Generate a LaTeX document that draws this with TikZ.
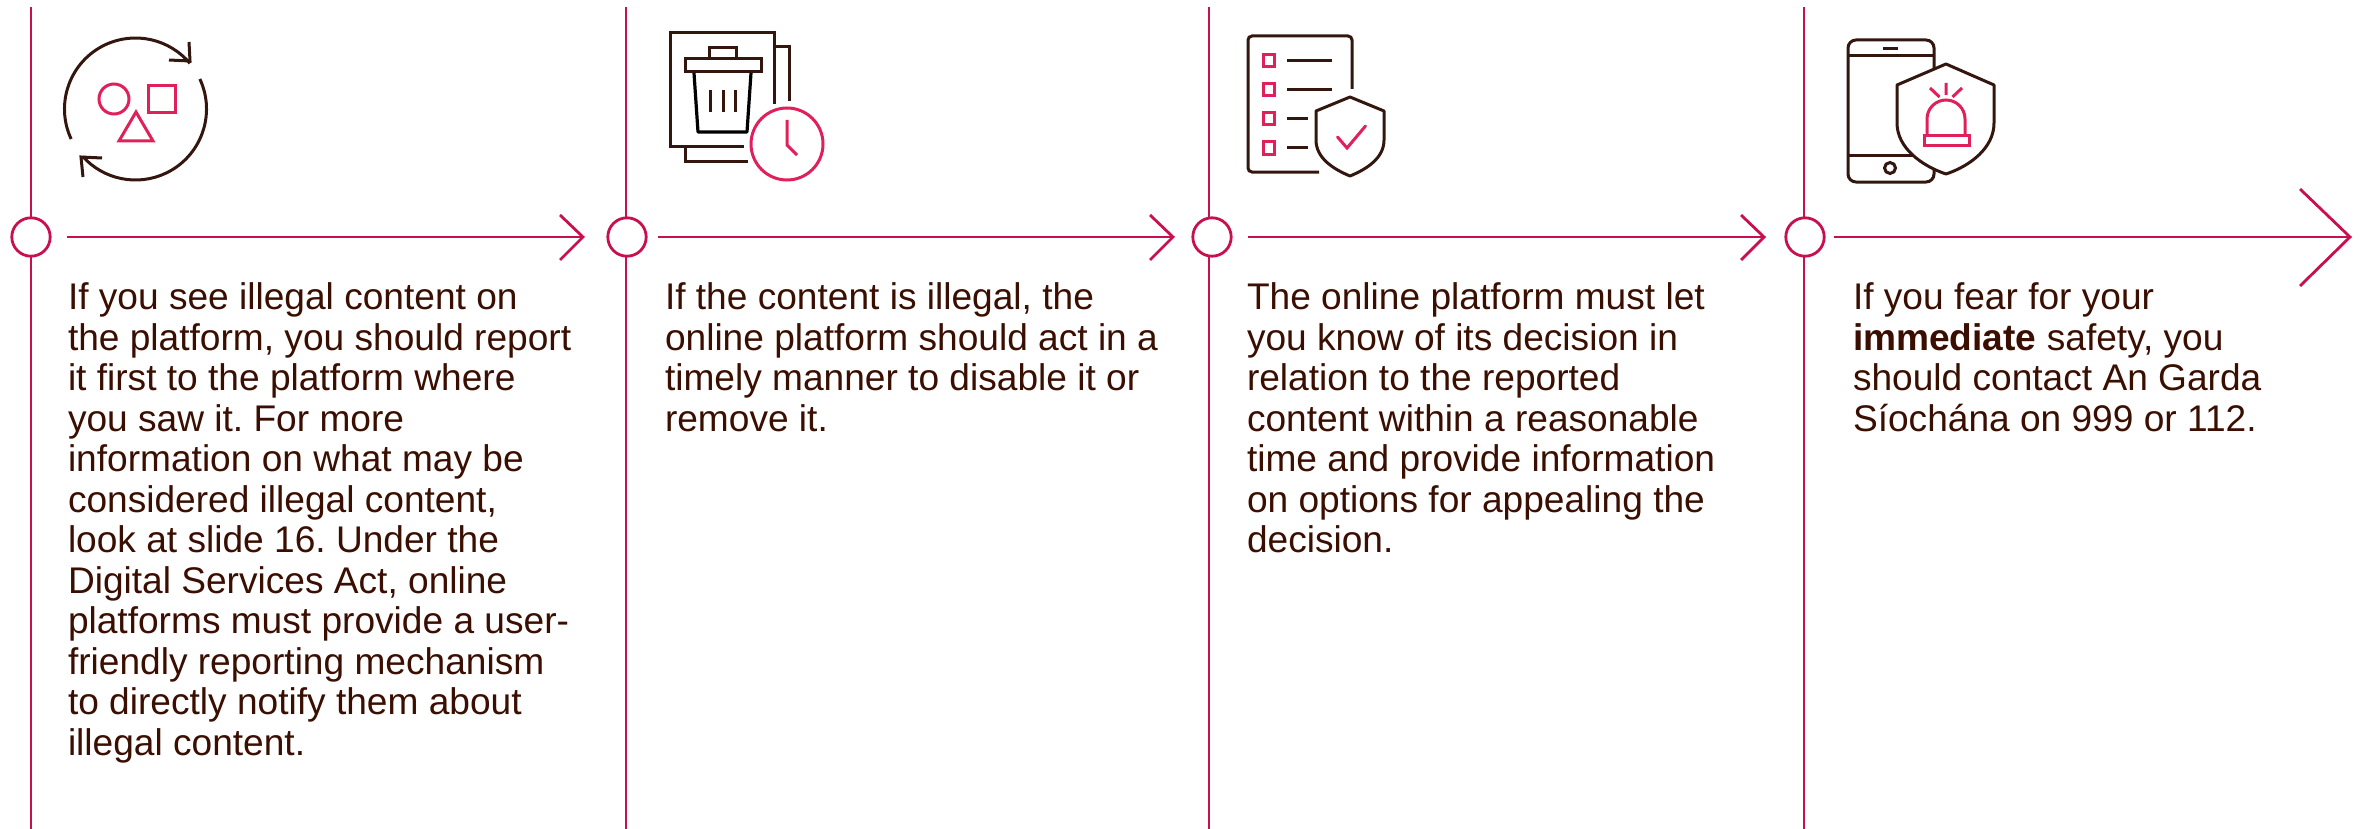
\documentclass[tikz,border=0pt]{standalone}
\usepackage{fontspec}
\setmainfont{Liberation Sans}
\definecolor{crim}{HTML}{C8104E}
\definecolor{pinkred}{HTML}{E0205A}
\definecolor{dbrown}{HTML}{33170F}
\definecolor{txtc}{HTML}{3A0E00}
\tikzset{
  x=0.5pt,y=-0.5pt,
  rail/.style={crim,line width=1.4pt},
  dot/.style={circle,draw=crim,line width=1.4pt,fill=white,minimum size=19.2pt,inner sep=0pt},
  flow/.style={crim,line width=1.4pt},
  ink/.style={dbrown,line width=1.5pt},
  inkj/.style={dbrown,line width=1.5pt,rounded corners=2pt},
  accent/.style={pinkred,line width=1.5pt},
  body/.style={anchor=north west,inner sep=0pt,outer sep=0pt,align=left,text=txtc,font=\fontsize{18.55}{20.25}\selectfont\frenchspacing},
}
\begin{document}
\begin{tikzpicture}
\useasboundingbox (0,0) rectangle (2366,829);
% rails
\coordinate (r1t) at (31,7); \coordinate (r1b) at (31,829);
\coordinate (r2t) at (626,7); \coordinate (r2b) at (626,829);
\coordinate (r3t) at (1209,7); \coordinate (r3b) at (1209,829);
\coordinate (r4t) at (1804,7); \coordinate (r4b) at (1804,829);
\draw[rail] (r1t)--(r1b);
\draw[rail] (r2t)--(r2b);
\draw[rail] (r3t)--(r3b);
\draw[rail] (r4t)--(r4b);
\node[dot] (d1) at (31,237) {};
\node[dot] (d2) at (627,237) {};
\node[dot] (d3) at (1212,237) {};
\node[dot] (d4) at (1805,237) {};
% arrows
\coordinate (a1s) at (67,237); \coordinate (a1e) at (583,237);
\coordinate (a2s) at (658,237); \coordinate (a2e) at (1173,237);
\coordinate (a3s) at (1248,237); \coordinate (a3e) at (1764,237);
\coordinate (a4s) at (1834,237); \coordinate (a4e) at (2350,237);
\draw[flow] (a1s)--(a1e);
\draw[flow] (560,215)--(a1e)--(560,260);
\draw[flow] (a2s)--(a2e);
\draw[flow] (1150,215)--(a2e)--(1150,260);
\draw[flow] (a3s)--(a3e);
\draw[flow] (1741,215)--(a3e)--(1741,260);
\draw[flow] (a4s)--(a4e);
\draw[flow] (2300,189)--(a4e)--(2300,286);
% icon 1
\draw[ink] (135.5,109)++(-205:71) arc[start angle=-205,end angle=-40,radius=71];
\draw[ink] (135.5,109)++(-25:71) arc[start angle=-25,end angle=138,radius=71];
\draw[ink] (189,42)--(190,61)--(169,60);
\draw[ink] (102,158)--(81,157)--(83,177);
\draw[accent] (114,99) circle[radius=15];
\draw[accent] (148,86) rectangle (175,113);
\draw[accent] (136,112)--(153,141)--(119,141)--cycle;
% icon 2
\draw[ink] (774,104)--(774,33)--(670,33)--(670,147)--(744,147);
\draw[ink] (775,47)--(789,47)--(789,101);
\draw[ink] (685,148)--(685,161)--(748,161);
\draw[ink] (685,59) rectangle (761,72);
\draw[ink] (709,59)--(709,48)--(736,48)--(736,59);
\draw[black,line width=1.6pt,line join=round] (694,73)--(698,132)--(747,132)--(751,73);
\draw[ink] (710,90)--(710,112) (723,90)--(723,112) (735,90)--(735,112);
\draw[accent] (787,144) circle[radius=36];
\draw[accent] (787,120)--(787,145)--(797,155);
% icon 3
\draw[inkj] (1352,89)--(1352,36)--(1248,36)--(1248,172)--(1319,172);
\foreach \yy in {54,83,112,141}{\draw[accent] (1263,\yy+1) rectangle (1274,\yy+13);}
\draw[ink] (1287,61)--(1332,61) (1287,90)--(1332,90) (1287,119)--(1308,119) (1287,148)--(1308,148);
\draw[ink,line join=round] (1350,97)--(1384,111)--(1384,140) .. controls (1384,158) and (1367,169) .. (1350,176) .. controls (1333,169) and (1316,158) .. (1316,140)--(1316,111)--cycle;
\draw[accent,line cap=round] (1337.5,137)--(1347,148)--(1365.5,126);
% icon 4
\draw[ink,rounded corners=4pt] (1848,40) rectangle (1934,182);
\draw[ink] (1848,56)--(1934,56) (1848,155)--(1934,155) (1883,49)--(1898,49);
\draw[ink] (1890,168) circle[radius=5.5];
\draw[ink,fill=white,line join=round] (1946,64)--(1994,85)--(1994,123) .. controls (1994,148) and (1970,166) .. (1946,174) .. controls (1922,166) and (1897,148) .. (1897,123)--(1897,85)--cycle;
\draw[accent] (1927,136)--(1927,119) arc[start angle=180,end angle=360,radius=19]--(1965,136);
\draw[accent] (1924,136) rectangle (1969,146);
\draw[accent] (1946,83)--(1946,95) (1930,88)--(1939.5,97) (1962,88)--(1952.5,97);
% text
\node[body] (t1) at (68,283) {If you see illegal content on\\the platform, you should report\\it first to the platform where\\you saw it. For more\\information on what may be\\considered illegal content,\\look at slide 16. Under the\\Digital Services Act, online\\platforms must provide a user-\\friendly reporting mechanism\\to directly notify them about\\illegal content.};
\node[body] (t2) at (665,283) {If the content is illegal, the\\online platform should act in a\\timely manner to disable it or\\remove it.};
\node[body] (t3) at (1247,283) {The online platform must let\\you know of its decision in\\relation to the reported\\content within a reasonable\\time and provide information\\on options for appealing the\\decision.};
\node[body] (t4) at (1853,283) {If you fear for your\\\textbf{immediate} safety, you\\should contact An Garda\\Síochána on 999 or 112.};
\end{tikzpicture}
\end{document}
